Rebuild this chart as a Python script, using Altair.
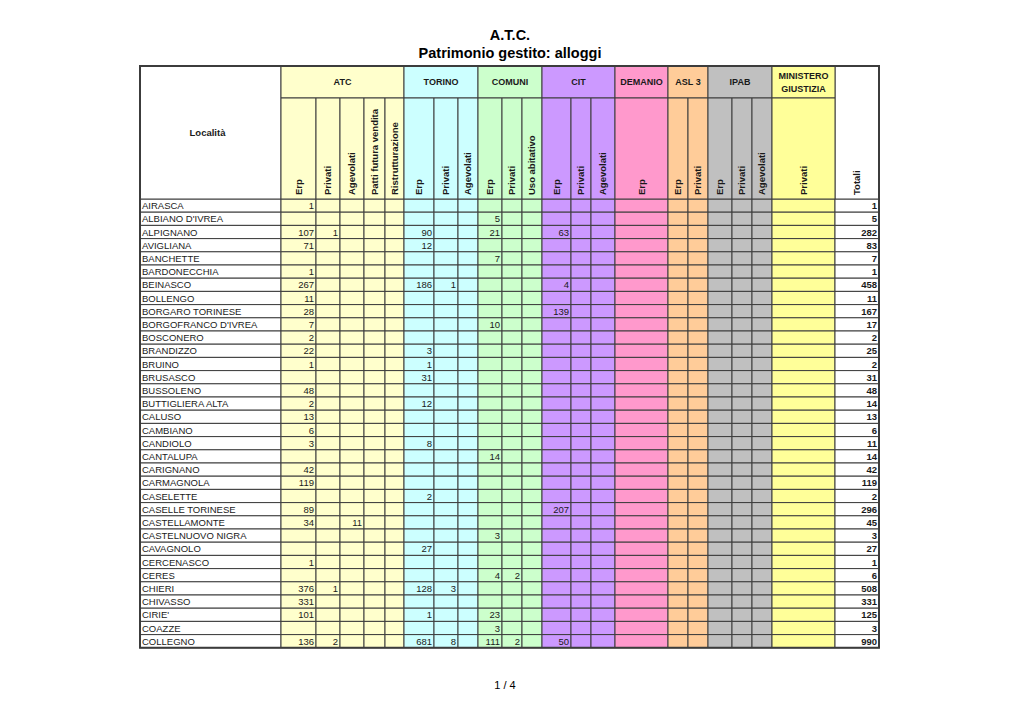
import altair as alt
import pandas as pd

# ---------------- data ----------------
title_lines = ["A.T.C.", "Patrimonio gestito: alloggi"]
page_label = "1 / 4"
corner_label = "Località"
total_label = "Totali"

localita = [
    "AIRASCA", "ALBIANO D'IVREA", "ALPIGNANO", "AVIGLIANA", "BANCHETTE",
    "BARDONECCHIA", "BEINASCO", "BOLLENGO", "BORGARO TORINESE",
    "BORGOFRANCO D'IVREA", "BOSCONERO", "BRANDIZZO", "BRUINO", "BRUSASCO",
    "BUSSOLENO", "BUTTIGLIERA ALTA", "CALUSO", "CAMBIANO", "CANDIOLO",
    "CANTALUPA", "CARIGNANO", "CARMAGNOLA", "CASELETTE", "CASELLE TORINESE",
    "CASTELLAMONTE", "CASTELNUOVO NIGRA", "CAVAGNOLO", "CERCENASCO", "CERES",
    "CHIERI", "CHIVASSO", "CIRIE'", "COAZZE", "COLLEGNO",
]

groups = ["ATC", "TORINO", "COMUNI", "CIT", "DEMANIO", "ASL 3", "IPAB", "MINISTERO\nGIUSTIZIA"]
group_sizes = [5, 3, 3, 3, 1, 2, 3, 1]
subheaders = [
    "Erp", "Privati", "Agevolati", "Patti futura vendita", "Ristrutturazione",
    "Erp", "Privati", "Agevolati",
    "Erp", "Privati", "Uso abitativo",
    "Erp", "Privati", "Agevolati",
    "Erp",
    "Erp", "Privati",
    "Erp", "Privati", "Agevolati",
    "Privati",
]

atc_erp = {
    "AIRASCA": 1, "ALPIGNANO": 107, "AVIGLIANA": 71, "BARDONECCHIA": 1, "BEINASCO": 267,
    "BOLLENGO": 11, "BORGARO TORINESE": 28, "BORGOFRANCO D'IVREA": 7, "BOSCONERO": 2,
    "BRANDIZZO": 22, "BRUINO": 1, "BUSSOLENO": 48, "BUTTIGLIERA ALTA": 2, "CALUSO": 13,
    "CAMBIANO": 6, "CANDIOLO": 3, "CARIGNANO": 42, "CARMAGNOLA": 119, "CASELLE TORINESE": 89,
    "CASTELLAMONTE": 34, "CERCENASCO": 1, "CHIERI": 376, "CHIVASSO": 331, "CIRIE'": 101,
    "COLLEGNO": 136,
}
atc_privati = {"ALPIGNANO": 1, "CHIERI": 1, "COLLEGNO": 2}
atc_agevolati = {"CASTELLAMONTE": 11}
atc_patti = {}
atc_ristrutturazione = {}
torino_erp = {
    "ALPIGNANO": 90, "AVIGLIANA": 12, "BEINASCO": 186, "BRANDIZZO": 3, "BRUINO": 1,
    "BRUSASCO": 31, "BUTTIGLIERA ALTA": 12, "CANDIOLO": 8, "CASELETTE": 2, "CAVAGNOLO": 27,
    "CHIERI": 128, "CIRIE'": 1, "COLLEGNO": 681,
}
torino_privati = {"BEINASCO": 1, "CHIERI": 3, "COLLEGNO": 8}
torino_agevolati = {}
comuni_erp = {
    "ALBIANO D'IVREA": 5, "ALPIGNANO": 21, "BANCHETTE": 7, "BORGOFRANCO D'IVREA": 10,
    "CANTALUPA": 14, "CASTELNUOVO NIGRA": 3, "CERES": 4, "CIRIE'": 23, "COAZZE": 3,
    "COLLEGNO": 111,
}
comuni_privati = {"CERES": 2, "COLLEGNO": 2}
comuni_uso = {}
cit_erp = {"ALPIGNANO": 63, "BEINASCO": 4, "BORGARO TORINESE": 139, "CASELLE TORINESE": 207, "COLLEGNO": 50}
cit_privati = {}
cit_agevolati = {}
demanio_erp = {}
asl_erp = {}
asl_privati = {}
ipab_erp = {}
ipab_privati = {}
ipab_agevolati = {}
ministero_privati = {}

totali = [1, 5, 282, 83, 7, 1, 458, 11, 167, 17, 2, 25, 2, 31, 48, 14, 13, 6, 11, 14,
          42, 119, 2, 296, 45, 3, 27, 1, 6, 508, 331, 125, 3, 990]

columns = [atc_erp, atc_privati, atc_agevolati, atc_patti, atc_ristrutturazione,
           torino_erp, torino_privati, torino_agevolati,
           comuni_erp, comuni_privati, comuni_uso,
           cit_erp, cit_privati, cit_agevolati,
           demanio_erp, asl_erp, asl_privati,
           ipab_erp, ipab_privati, ipab_agevolati, ministero_privati]

# ---------------- layout / style ----------------
group_colors = ["#FFFFCC", "#CCFFFF", "#CCFFCC", "#CC99FF", "#FF99CC", "#FFCC99", "#C0C0C0", "#FFFF99"]
edges = [140, 281, 316, 340, 364, 385, 404, 434, 458, 478, 502, 522, 542, 571, 591,
         615, 668, 688, 708, 732, 752, 772, 835, 879]
head_top, head_mid, body_top = 66, 98, 199
row_h = 13.2
line_col = "#3c3c3c"
FONT = "Liberation Sans"

col_color = []
for c, n in zip(group_colors, group_sizes):
    col_color += [c] * n

xs = alt.Scale(domain=[8, 1012], nice=False, zero=False)
ys = alt.Scale(domain=[8, 712], nice=False, zero=False, reverse=True)

# cells
cells = []
ncols = len(edges) - 1
for i in range(len(localita)):
    y0 = body_top + i * row_h
    for j in range(ncols):
        fill = "#FFFFFF" if j in (0, ncols - 1) else col_color[j - 1]
        cells.append(dict(x=edges[j], x2=edges[j + 1], y=y0, y2=y0 + row_h, fill=fill))
# header cells
cells.append(dict(x=edges[0], x2=edges[1], y=head_top, y2=body_top, fill="#FFFFFF"))
cells.append(dict(x=edges[-2], x2=edges[-1], y=head_top, y2=body_top, fill="#FFFFFF"))
k = 1
for g, n, c in zip(groups, group_sizes, group_colors):
    cells.append(dict(x=edges[k], x2=edges[k + n], y=head_top, y2=head_mid, fill=c))
    k += n
for j in range(len(subheaders)):
    cells.append(dict(x=edges[j + 1], x2=edges[j + 2], y=head_mid, y2=body_top, fill=col_color[j]))
cells_df = pd.DataFrame(cells)

rects = alt.Chart(cells_df).mark_rect(stroke=line_col, strokeWidth=1).encode(
    x=alt.X("x:Q", scale=xs, axis=None), x2="x2",
    y=alt.Y("y:Q", scale=ys, axis=None), y2="y2",
    fill=alt.Fill("fill:N", scale=None),
)

border_df = pd.DataFrame([dict(x=edges[0], x2=edges[-1], y=head_top, y2=body_top + row_h * len(localita))])
border = alt.Chart(border_df).mark_rect(fill=None, stroke=line_col, strokeWidth=2, fillOpacity=0).encode(
    x=alt.X("x:Q", scale=xs, axis=None), x2="x2",
    y=alt.Y("y:Q", scale=ys, axis=None), y2="y2",
)


def text_layer(df, **kw):
    base = dict(font=FONT, color="#1a1a1a")
    base.update(kw)
    return alt.Chart(df).mark_text(**base).encode(
        x=alt.X("x:Q", scale=xs, axis=None),
        y=alt.Y("y:Q", scale=ys, axis=None),
        text="t:N",
    )


# body text
names, vals, tots = [], [], []
for i, name in enumerate(localita):
    yc = body_top + (i + 0.5) * row_h + 0.5
    names.append(dict(x=edges[0] + 2, y=yc, t=name))
    for j, col in enumerate(columns):
        if name in col:
            vals.append(dict(x=edges[j + 2] - 2, y=yc, t=str(col[name])))
    tots.append(dict(x=edges[-1] - 2, y=yc, t=str(totali[i])))

names_l = text_layer(pd.DataFrame(names), align="left", baseline="middle", fontSize=9.5)
vals_l = text_layer(pd.DataFrame(vals), align="right", baseline="middle", fontSize=9.5)
tots_l = text_layer(pd.DataFrame(tots), align="right", baseline="middle", fontSize=9.5, fontWeight="bold")

# header text
grp_txt = []
k = 1
for g, n in zip(groups, group_sizes):
    if "\n" not in g:
        grp_txt.append(dict(x=(edges[k] + edges[k + n]) / 2, y=(head_top + head_mid) / 2, t=g))
    k += n
grp_l = text_layer(pd.DataFrame(grp_txt), align="center", baseline="middle", fontSize=9, fontWeight="bold")

multi = []
k = 1
for g, n in zip(groups, group_sizes):
    if "\n" in g:
        for li, part in enumerate(g.split("\n")):
            multi.append(dict(x=(edges[k] + edges[k + n]) / 2, y=(head_top + head_mid) / 2 - 6 + li * 12.5, t=part))
    k += n
multi_l = text_layer(pd.DataFrame(multi), align="center", baseline="middle", fontSize=9, fontWeight="bold")

sub_txt = [dict(x=(edges[j + 1] + edges[j + 2]) / 2, y=body_top - 4, t=s) for j, s in enumerate(subheaders)]
sub_txt.append(dict(x=(edges[-2] + edges[-1]) / 2, y=body_top - 4, t=total_label))
sub_l = text_layer(pd.DataFrame(sub_txt), align="left", baseline="middle", angle=270, fontSize=9.5, fontWeight="bold")

corner_l = text_layer(pd.DataFrame([dict(x=(edges[0] + edges[1]) / 2 - 3, y=133, t=corner_label)]),
                      align="center", baseline="middle", fontSize=9.5, fontWeight="bold")

title_df = pd.DataFrame([dict(x=510, y=36, t=title_lines[0]), dict(x=510, y=54, t=title_lines[1])])
title_l = text_layer(title_df, align="center", baseline="middle", fontSize=14.5, fontWeight="bold", color="#000000")

foot_l = text_layer(pd.DataFrame([dict(x=505, y=686, t=page_label)]), align="center", baseline="middle",
                    fontSize=11, color="#000000")

chart = alt.layer(
    rects, border, names_l, vals_l, tots_l, grp_l, multi_l, sub_l, corner_l, title_l, foot_l
).properties(
    width=1004, height=704, padding=0, autosize=alt.AutoSizeParams(type="none"),
    background="#FFFFFF",
).configure_view(stroke=None)

chart.save("out.html", embed_options={"renderer": "svg", "actions": False})
